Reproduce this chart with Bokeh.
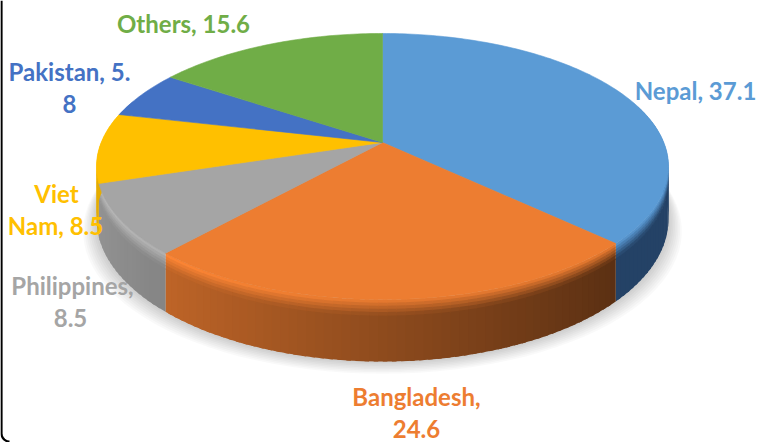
import math
from bokeh.plotting import figure
from bokeh.models import Range1d, ColumnDataSource
from bokeh.core.properties import value
from bokeh.embed import file_html
from bokeh.resources import INLINE

categories = ["Nepal", "Bangladesh", "Philippines", "Viet Nam", "Pakistan", "Others"]
shares = [37.1, 24.6, 8.5, 8.5, 5.8, 15.6]
colors = ["#5B9BD5", "#ED7D31", "#A5A5A5", "#FFC000", "#4472C4", "#70AD47"]

# one entry per text line: text, colour index, centre x, centre y
label_lines = [
    (f"{categories[0]}, {shares[0]}", 0, 695, 90),
    (f"{categories[1]},", 1, 416, 396),
    (f"{shares[1]}", 1, 416, 428),
    (f"{categories[2]},", 2, 72, 285),
    (f"{shares[2]}", 2, 70, 317),
    ("Viet", 3, 56, 193),
    (f"Nam, {shares[3]}", 3, 55, 225),
    ("Pakistan, 5.", 4, 69, 71),
    ("8", 4, 69, 103),
    (f"{categories[5]}, {shares[5]}", 5, 183, 23),
]

# perspective disc
CX, CY, A, B, K, D = 382.0, 142.0, 281.3, 128.7, 0.1806, 50.8
TOTAL = sum(shares)


def project(theta, depth=0.0):
    u, v = math.sin(theta), math.cos(theta)
    w = 1 + K * v
    return CX + A * u / w, CY - B * v / w + depth * D / w


def hexrgb(c):
    return tuple(int(c[i:i + 2], 16) for i in (1, 3, 5))


def rgb(c):
    return "#%02x%02x%02x" % tuple(max(0, min(255, round(x))) for x in c)


p = figure(width=758, height=442, output_backend="svg", toolbar_location=None,
           x_range=Range1d(0, 758), y_range=Range1d(442, 0),
           min_border=0, outline_line_color=None)
p.axis.visible = False
p.grid.visible = False
p.background_fill_color = "white"
p.border_fill_color = "white"

# frame of the slide, left edge and lower-left corner
arc = [math.radians(a) for a in range(180, 89, -10)]
p.line([1.0] + [9 + 8 * math.cos(a) for a in arc],
       [0.0] + [433 + 8 * math.sin(a) for a in arc],
       line_color="#000000", line_width=2.2)

# soft shadow below the disc
steps = [math.radians(a) for a in range(0, 360, 3)]
sx, sy = [], []
for grow in range(1, 9):
    g = grow * 1.7
    xs, ys = [], []
    for t in steps:
        x, y = project(t, 1.0)
        xs.append(CX + (x - CX) * (1 + g / 290))
        ys.append(y + g * 0.9)
    sx.append(xs)
    sy.append(ys)
p.patches(sx, sy, fill_color="#000000", fill_alpha=0.022, line_color=None)

# extruded side, shaded cell by cell
levels = [0.0, 0.05, 0.10, 0.15, 0.20, 0.26, 1.0]
cx, cy, cc = [], [], []
start = 0.0
bounds = []
for s in shares:
    bounds.append((start, start + s / TOTAL * 2 * math.pi))
    start = bounds[-1][1]
for i, (a0, a1) in enumerate(bounds):
    n = max(1, int((a1 - a0) / math.radians(1.5)))
    base = hexrgb(colors[i])
    step = (a1 - a0) / n
    for j in range(n):
        t0 = a0 + step * j
        t1 = t0 + step * (1.5 if j < n - 1 else 1.0)
        tm = t0 + step / 2
        if math.cos(tm) > 0.3:
            continue
        u = math.sin(tm)
        f = 0.60 - 0.30 * u
        side = (36, 66, 102) if i == 0 else tuple(b * f for b in base)
        hi = tuple(b * (1 + 0.14 * max(-u, 0)) for b in base)
        for k in range(len(levels) - 1):
            d0, d1 = levels[k], levels[k + 1]
            m = min(1.0, (k + 0.5) / 5)
            col = tuple(h + (sd - h) * m for h, sd in zip(hi, side))
            d1x = d1 if k == len(levels) - 2 else d1 + 0.02
            p0, p1, p2, p3 = project(t0, d0), project(t1, d0), project(t1, d1x), project(t0, d1x)
            cx.append([p0[0], p1[0], p2[0], p3[0]])
            cy.append([p0[1], p1[1], p2[1], p3[1]])
            cc.append(rgb(col))
p.patches(cx, cy, fill_color=cc, line_color=None)

# top face
fx, fy = [], []
for (a0, a1) in bounds:
    n = max(2, int((a1 - a0) / math.radians(1)))
    pts = [project(a0 + (a1 - a0) * j / n) for j in range(n + 1)]
    fx.append([CX] + [q[0] for q in pts])
    fy.append([CY] + [q[1] for q in pts])
p.patches(xs="xs", ys="ys", fill_color="color", line_color="color", line_width=0.6,
          source=ColumnDataSource(dict(xs=fx, ys=fy, color=colors, name=categories)))

# labels
p.text(x=[l[2] for l in label_lines], y=[l[3] for l in label_lines],
       text=[l[0] for l in label_lines],
       text_color=[colors[l[1]] for l in label_lines],
       text_font=value("Lato"), text_font_style="bold", text_font_size="24px",
       text_align="center", text_baseline="middle")

open("out.html", "w").write(file_html(p, INLINE))
